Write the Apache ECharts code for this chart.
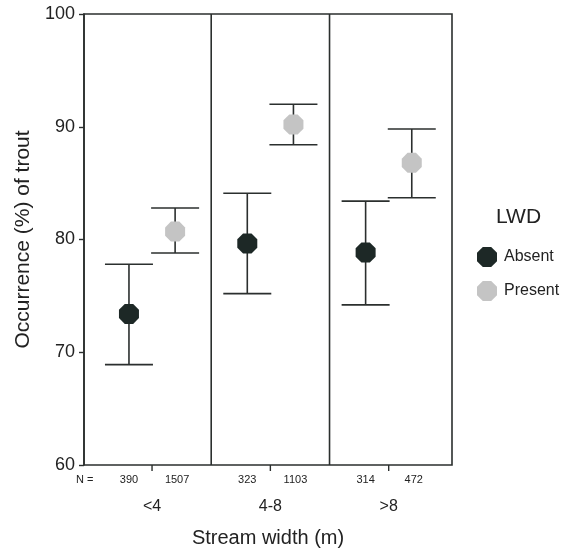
<!DOCTYPE html>
<html>
<head>
<meta charset="utf-8">
<script src="https://cdn.jsdelivr.net/npm/echarts@6/dist/echarts.min.js"></script>
<style>html,body{margin:0;padding:0;background:#fff}#c{width:575px;height:549px}</style>
</head>
<body>
<div id="c"></div>
<script>
const categories = ['<4', '4-8', '>8'];
const absentMean = [73.4, 79.65, 78.85];
const absentLow = [68.9, 75.2, 74.2];
const absentHigh = [77.8, 84.1, 83.4];
const presentMean = [80.7, 90.2, 86.8];
const presentLow = [78.8, 88.4, 83.7];
const presentHigh = [82.8, 92.0, 89.8];
const absentN = [390, 323, 314];
const presentN = [1507, 1103, 472];
const yTicks = [60, 70, 80, 90, 100];
const seriesNames = ['Absent', 'Present'];
const legendTitle = 'LWD';
const xTitle = 'Stream width (m)';
const yTitle = 'Occurrence (%) of trout';

const OFF = 0.195;
const X_MIN = -0.575, X_MAX = 2.535;
const FONT = '"Liberation Sans", Arial, sans-serif';
const LINE = '#2b2f2e';
const DARK = '#1d2826';
const GRAY = '#c4c4c4';
const OCT = 'path://M29,0L71,0L100,29L100,71L71,100L29,100L0,71L0,29Z';

const absPts = absentMean.map((v, i) => [i - OFF, v]);
const prePts = presentMean.map((v, i) => [i + OFF, v]);
const errData = [];
categories.forEach((c, i) => {
  errData.push([i - OFF, absentLow[i], absentHigh[i]]);
  errData.push([i + OFF, presentLow[i], presentHigh[i]]);
});
const labelData = categories.map((c, i) => [i, c, absentN[i], presentN[i]]);
const dividerData = categories.slice(1).map((c, i) => [i + 0.5]);

const chart = echarts.init(document.getElementById('c'), null, {renderer: 'canvas'});
chart.setOption({
  animation: false,
  backgroundColor: '#fff',
  textStyle: {fontFamily: FONT},
  title: {
    text: legendTitle, left: 491, top: 202,
    textStyle: {fontFamily: FONT, fontSize: 21, fontWeight: 'normal', color: '#222'}
  },
  legend: {
    data: seriesNames.map(n => ({name: n, icon: OCT})),
    orient: 'vertical', left: 472, top: 242,
    itemWidth: 20, itemHeight: 20, itemGap: 14,
    textStyle: {fontFamily: FONT, fontSize: 16, color: '#222', padding: [0, 0, 4, 2]},
    selectedMode: false
  },
  grid: {
    left: 84, top: 14, width: 368, height: 451,
    show: true, borderColor: LINE, borderWidth: 1.6, containLabel: false,
    outerBoundsMode: 'none'
  },
  xAxis: {
    type: 'value', min: X_MIN, max: X_MAX,
    axisLine: {show: false}, axisTick: {show: false}, axisLabel: {show: false},
    splitLine: {show: false},
    name: xTitle, nameLocation: 'middle', nameGap: 63,
    nameTextStyle: {fontFamily: FONT, fontSize: 20, color: '#222'}
  },
  yAxis: {
    type: 'value', min: yTicks[0], max: yTicks[yTicks.length - 1], interval: 10,
    axisLine: {show: true, onZero: false, lineStyle: {color: LINE, width: 1.6}},
    axisTick: {show: true, length: 5, lineStyle: {color: LINE, width: 1.4}},
    axisLabel: {fontFamily: FONT, fontSize: 18, color: '#222', margin: 9},
    splitLine: {show: false},
    name: yTitle, nameLocation: 'middle', nameGap: 47,
    nameTextStyle: {fontFamily: FONT, fontSize: 21, color: '#222'}
  },
  series: [
    {
      type: 'custom', name: 'dividers', silent: true, z: 1,
      data: dividerData,
      renderItem: (params, api) => {
        const top = api.coord([api.value(0), yTicks[yTicks.length - 1]]);
        const bot = api.coord([api.value(0), yTicks[0]]);
        return {type: 'line', shape: {x1: top[0], y1: top[1], x2: bot[0], y2: bot[1]},
          style: {stroke: LINE, lineWidth: 1.6}};
      }
    },
    {
      type: 'custom', name: 'errors', silent: true, z: 2,
      data: errData,
      renderItem: (params, api) => {
        const lo = api.coord([api.value(0), api.value(1)]);
        const hi = api.coord([api.value(0), api.value(2)]);
        const w = 24;
        const st = {stroke: LINE, lineWidth: 1.6};
        return {type: 'group', children: [
          {type: 'line', shape: {x1: lo[0], y1: lo[1], x2: hi[0], y2: hi[1]}, style: st},
          {type: 'line', shape: {x1: lo[0] - w, y1: lo[1], x2: lo[0] + w, y2: lo[1]}, style: st},
          {type: 'line', shape: {x1: hi[0] - w, y1: hi[1], x2: hi[0] + w, y2: hi[1]}, style: st}
        ]};
      }
    },
    {
      type: 'scatter', name: seriesNames[0], data: absPts, z: 5,
      symbol: OCT, symbolSize: 20, itemStyle: {color: DARK, opacity: 1}
    },
    {
      type: 'scatter', name: seriesNames[1], data: prePts, z: 5,
      symbol: OCT, symbolSize: 20, itemStyle: {color: GRAY, opacity: 1}
    },
    {
      type: 'custom', name: 'labels', silent: true, z: 3, clip: false,
      data: labelData,
      renderItem: (params, api) => {
        const i = api.value(0);
        const base = api.coord([i, yTicks[0]]);
        const a = api.coord([i - OFF, yTicks[0]]);
        const p = api.coord([i + OFF, yTicks[0]]);
        const nStyle = {fontFamily: FONT, fontSize: 11, fill: '#222', align: 'center', verticalAlign: 'middle'};
        const children = [
          {type: 'line', shape: {x1: base[0], y1: base[1], x2: base[0], y2: base[1] + 6},
            style: {stroke: LINE, lineWidth: 1.4}},
          {type: 'text', x: a[0], y: base[1] + 15, style: Object.assign({text: String(absentN[i])}, nStyle)},
          {type: 'text', x: p[0] + 2, y: base[1] + 15, style: Object.assign({text: String(presentN[i])}, nStyle)},
          {type: 'text', x: base[0], y: base[1] + 42,
            style: {text: categories[i], fontFamily: FONT, fontSize: 16, fill: '#222', align: 'center', verticalAlign: 'middle'}}
        ];
        if (params.dataIndex === 0) {
          const left = api.coord([X_MIN, yTicks[0]]);
          children.push({type: 'text', x: left[0] - 8, y: base[1] + 15,
            style: Object.assign({}, nStyle, {text: 'N =', align: 'left'})});
        }
        return {type: 'group', children};
      }
    }
  ]
});
</script>
</body>
</html>
